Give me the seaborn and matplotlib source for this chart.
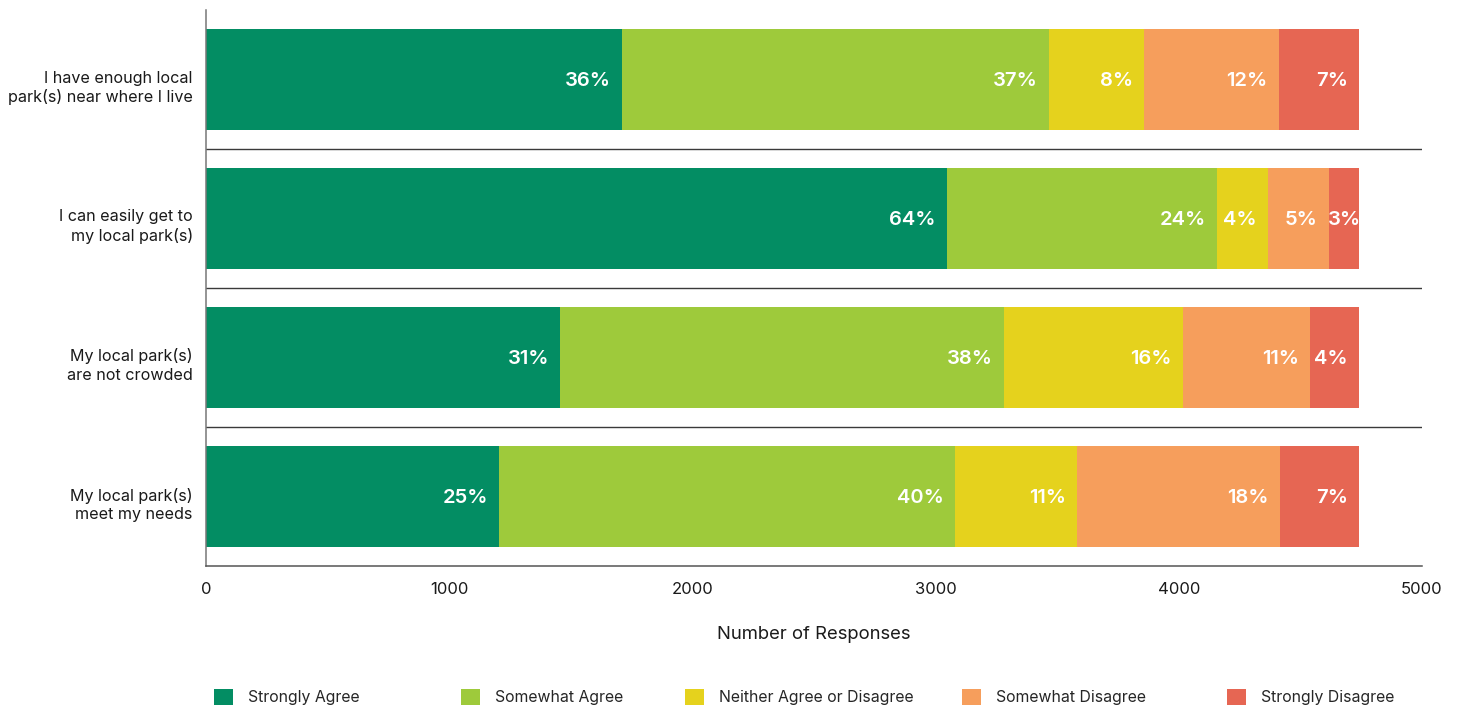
import matplotlib
matplotlib.use("Agg")
import matplotlib.pyplot as plt
import matplotlib.transforms as mtransforms
from matplotlib.patches import Patch
import seaborn as sns
import pandas as pd

questions = ["I have enough local\npark(s) near where I live",
             "I can easily get to\nmy local park(s)",
             "My local park(s)\nare not crowded",
             "My local park(s)\nmeet my needs"]
levels = ["Strongly Agree", "Somewhat Agree", "Neither Agree or Disagree",
          "Somewhat Disagree", "Strongly Disagree"]

strongly_agree = [1710, 3047, 1456, 1205]
somewhat_agree = [1756, 1110, 1825, 1875]
neither = [391, 210, 736, 501]
somewhat_disagree = [555, 251, 522, 835]
strongly_disagree = [329, 123, 202, 325]

pct_labels = [["36%", "37%", "8%", "12%", "7%"],
              ["64%", "24%", "4%", "5%", "3%"],
              ["31%", "38%", "16%", "11%", "4%"],
              ["25%", "40%", "11%", "18%", "7%"]]

colors = ["#038D63", "#9ECA3B", "#E5D21D", "#F69E5C", "#E66653"]

sns.set_theme(style="white")
plt.rcParams['font.family'] = ['Inter', 'DejaVu Sans']

counts = pd.DataFrame({"Strongly Agree": strongly_agree,
                       "Somewhat Agree": somewhat_agree,
                       "Neither Agree or Disagree": neither,
                       "Somewhat Disagree": somewhat_disagree,
                       "Strongly Disagree": strongly_disagree},
                      index=questions)
cum = counts.cumsum(axis=1)

fig = plt.figure(figsize=(14.6, 7.06), dpi=100)
ax = fig.add_axes([206/1460, 1 - 566/706, (1422-206)/1460, (566-10)/706])

# stacked bars: draw the running totals from the longest to the shortest
for lvl, c in reversed(list(zip(levels, colors))):
    sns.barplot(x=cum[lvl].values, y=questions, color=c, orient="h",
                width=0.727, ax=ax, saturation=1, linewidth=0)

# percentage labels inside each segment
for i, q in enumerate(questions):
    for j, lvl in enumerate(levels):
        end = cum.loc[q, lvl]
        seg = counts.loc[q, lvl]
        if seg < 200:
            ax.text(end - seg / 2, i + 0.01, pct_labels[i][j], ha="center", va="center",
                    color="white", fontsize=14.5, fontweight="semibold")
        else:
            ax.text(end - 46, i + 0.01, pct_labels[i][j], ha="right", va="center",
                    color="white", fontsize=14.5, fontweight="semibold")

# separators between questions
for yy in [0.5, 1.5, 2.5]:
    ax.axhline(yy, color="#3a3a3a", lw=1.0)

ax.set_xlim(0, 5000)
ax.set_ylim(3.5, -0.5)
ax.set_xticks([0, 1000, 2000, 3000, 4000, 5000])
ax.tick_params(axis="x", length=0, pad=11.5, labelsize=12, colors="#1a1a1a")
ax.tick_params(axis="y", length=0, pad=9.5, labelsize=11.6, colors="#1a1a1a")
shift = mtransforms.ScaledTranslation(0, -5/100, fig.dpi_scale_trans)
for lab in ax.get_yticklabels():
    lab.set_horizontalalignment("right")
    lab.set_linespacing(1.3)
    lab.set_transform(lab.get_transform() + shift)
ax.set_xlabel("Number of Responses", fontsize=13.3, labelpad=21, color="#1a1a1a")
ax.set_ylabel("")

sns.despine(ax=ax, top=True, right=True)
ax.spines["left"].set_color("#777777")
ax.spines["bottom"].set_color("#555555")
ax.spines["left"].set_linewidth(1.1)
ax.spines["bottom"].set_linewidth(1.1)

# legend items placed along the bottom
legend_x = [214, 461, 685, 962, 1227]
for lvl, c, lx in zip(levels, colors, legend_x):
    leg = fig.legend([Patch(facecolor=c, edgecolor="none")], [lvl], loc="center left",
                     bbox_to_anchor=(lx/1460, 1 - 697/706), frameon=False, fontsize=11.4,
                     handlelength=1.2, handleheight=1.2, handletextpad=0.95,
                     borderpad=0, borderaxespad=0)

fig.savefig("out.png", dpi=100)
